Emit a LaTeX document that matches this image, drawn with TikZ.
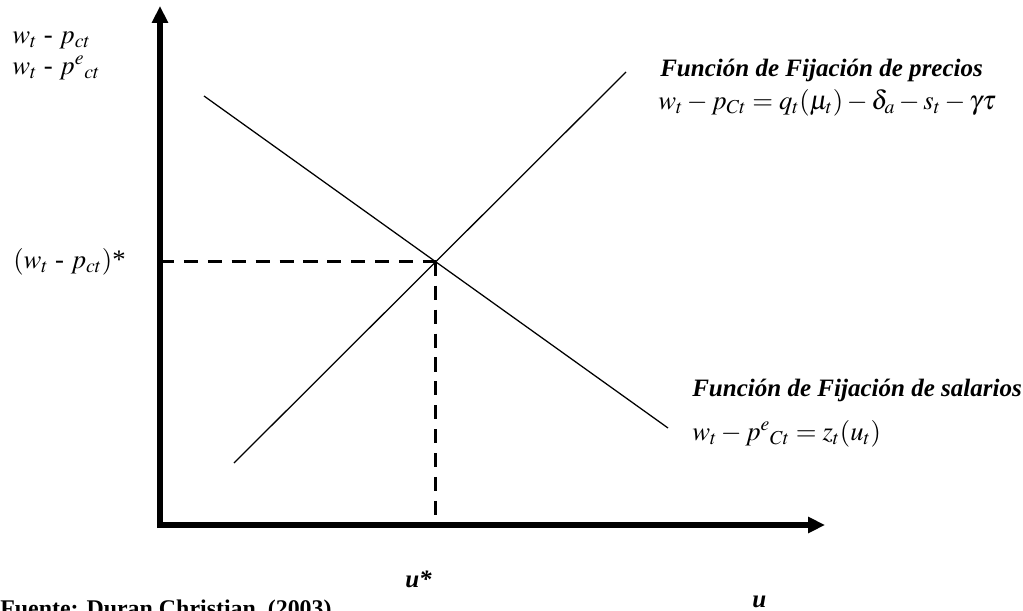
\documentclass[tikz,border=0pt]{standalone}
\usepackage{mathptmx}
\usepackage{fontspec}
\setmainfont{Liberation Serif}
\usetikzlibrary{arrows.meta, positioning, calc}

\tikzset{
  axisline/.style={line width=3.6pt, -{Triangle[width=11pt,length=12pt]}},
  curveline/.style={line width=0.9pt},
  guideline/.style={line width=2.2pt, dash pattern=on 10pt off 7pt},
  lbl/.style={inner sep=0pt, font=\fontsize{19}{23}\selectfont},
  ttl/.style={inner sep=0pt, font=\fontsize{17.8}{21}\selectfont\bfseries\itshape},
}

\begin{document}
\begin{tikzpicture}[x=0.025cm, y=-0.025cm]
  \useasboundingbox (0,0) rectangle (1023,610);
  % axes
  \coordinate (origin) at (160,525);
  \coordinate (ybase) at (160,528);
  \coordinate (xbase) at (158,525);
  \coordinate (ytop) at (160,6);
  \coordinate (xend) at (825,525);
  \draw[axisline] (ybase) -- (ytop);
  \draw[axisline] (xbase) -- (xend);

  % price and wage setting lines
  \coordinate (wsA) at (204,96);
  \coordinate (wsB) at (668,428);
  \coordinate (psA) at (234,463);
  \coordinate (psB) at (626,72);
  \draw[curveline] (wsA) -- (wsB);
  \draw[curveline] (psA) -- (psB);
  \coordinate (eq) at (intersection of wsA--wsB and psA--psB);
  \draw[guideline] (origin |- eq) -- (eq);
  \draw[guideline] (eq) -- (eq |- origin);

  % labels
  \node[lbl, anchor=west] (ylabA) at (12,40) {$w_t$ - $p_{ct}$};
  \node[lbl, anchor=west] (ylabB) at (12,68) {$w_t$ - $p^{e}{}_{ct}$};
  \node[lbl, anchor=west] (eqlab) at (13,262) {$(w_t$ - $p_{ct})$*};
  \node[ttl, anchor=west] (pttl) at (660,70) {Función de Fijación de precios};
  \node[lbl, anchor=west] (pform) at (658,103) {$w_t - p_{Ct} = q_t(\mu_t) - \delta_a - s_t - \gamma\tau$};
  \node[ttl, anchor=west] (sttl) at (692,390) {Función de Fijación de salarios};
  \node[lbl, anchor=west] (sform) at (692,434) {$w_t - p^{e}{}_{Ct} = z_t(u_t)$};
  \node[ttl, anchor=base west] (ustar) at (405,587) {u*};
  \node[ttl, anchor=base west] (ulab) at (752,607) {u};
  \node[inner sep=0pt, font=\fontsize{17}{20}\selectfont\bfseries, anchor=base west] (src) at (0,616) {Fuente: Duran Christian\ \ (2003)};
\end{tikzpicture}
\end{document}
